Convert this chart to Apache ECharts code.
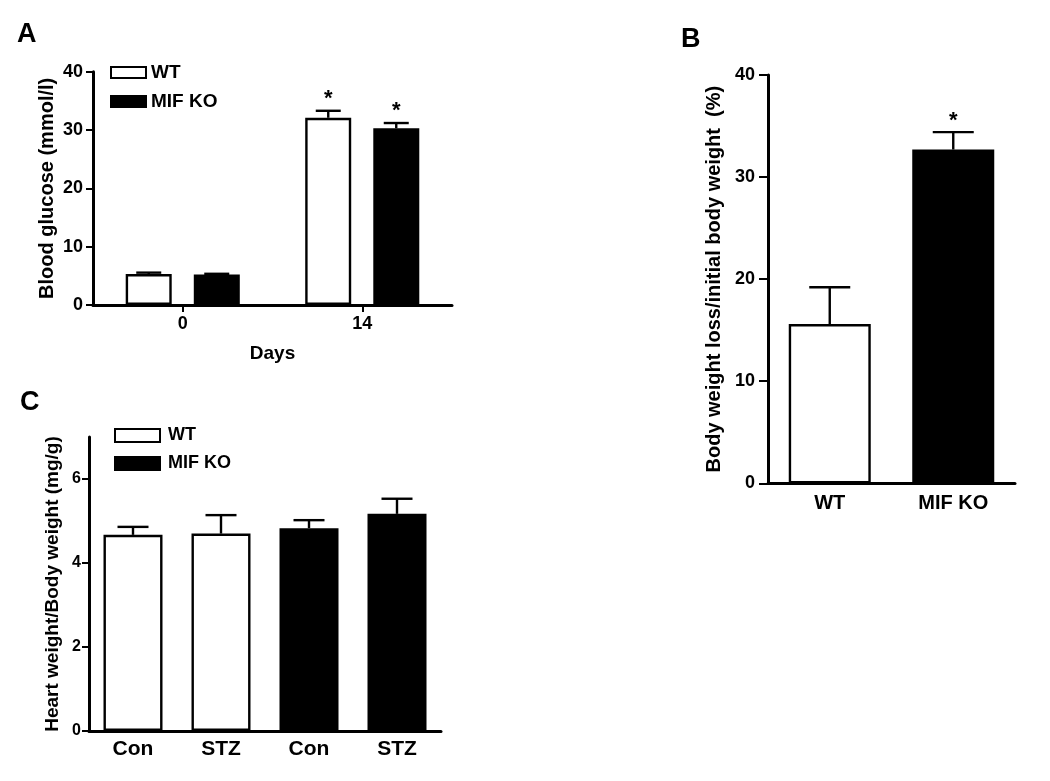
<!DOCTYPE html>
<html><head><meta charset="utf-8">
<script src="https://cdn.jsdelivr.net/npm/echarts@6/dist/echarts.min.js"></script>
<style>html,body{margin:0;padding:0;background:#fff}#c{width:1050px;height:781px}</style>
</head><body><div id="c"></div>
<script>
const FONT = '"Liberation Sans", Arial, Helvetica, sans-serif';

// Panel A: blood glucose
const dayCategories = ['0', '14'];
const glucoseWT = [5.3, 32.1];
const glucoseWTsem = [0.25, 1.2];
const glucoseKO = [5.25, 30.3];
const glucoseKOsem = [0.1, 0.9];
const glucoseStarWT = [0, 1];
const glucoseStarKO = [0, 1];
const glucoseTicks = [0, 10, 20, 30, 40];

// Panel B: body weight loss
const bwCategories = ['WT', 'MIF KO'];
const bwLoss = [15.6, 32.7];
const bwLossSem = [3.6, 1.7];
const bwStar = [0, 1];
const bwTicks = [0, 10, 20, 30, 40];

// Panel C: heart weight / body weight
const hwCategories = ['Con', 'STZ', 'Con', 'STZ'];
const hwWT = [4.67, 4.70, '-', '-'];
const hwWTsem = [0.19, 0.44, null, null];
const hwKO = ['-', '-', 4.83, 5.17];
const hwKOsem = [null, null, 0.19, 0.36];
const hwTicks = [0, 2, 4, 6];

const chart = echarts.init(document.getElementById('c'), null, {renderer: 'canvas'});

const WHITE = {color: '#fff', borderColor: '#000', borderWidth: 2.4};
const BLACK = {color: '#000', borderColor: '#000', borderWidth: 2.4};

function errData(means, sems, stars) {
  const out = [];
  means.forEach((m, i) => {
    if (m === '-' || m == null) return;
    out.push([i, m, m + sems[i], stars ? stars[i] : 0]);
  });
  return out;
}

function errorSeries(gridIdx, data, offsetPx, capHalf, starSize, starGap) {
  return {
    type: 'custom', xAxisIndex: gridIdx, yAxisIndex: gridIdx,
    data: data, z: 5, silent: true,
    renderItem: function (params, api) {
      const i = api.value(0);
      const base = api.coord([i, api.value(1)]);
      const top = api.coord([i, api.value(2)]);
      const x = base[0] + offsetPx;
      const children = [
        {type: 'line', shape: {x1: x, y1: base[1], x2: x, y2: top[1]}, style: {stroke: '#000', lineWidth: 2.4}},
        {type: 'line', shape: {x1: x - capHalf, y1: top[1], x2: x + capHalf, y2: top[1]}, style: {stroke: '#000', lineWidth: 2.4}}
      ];
      if (api.value(3)) {
        children.push({type: 'text', style: {text: '*', x: x, y: top[1] - starGap, align: 'center', verticalAlign: 'middle',
          font: 'bold ' + starSize + 'px ' + FONT, fill: '#000'}});
      }
      return {type: 'group', children: children};
    }
  };
}

function valueAxis(gridIndex, max, interval, ticks, name, nameGap, labelSize, margin, tickLen, nameSize) {
  return {
    type: 'value', gridIndex: gridIndex, min: 0, max: max, interval: interval,
    splitLine: {show: false},
    axisLine: {show: true, lineStyle: {color: '#000', width: 3}},
    axisTick: {show: true, length: tickLen, lineStyle: {color: '#000', width: 2}, customValues: ticks},
    axisLabel: {color: '#000', fontFamily: FONT, fontWeight: 'bold', fontSize: labelSize, margin: margin, customValues: ticks},
    name: name, nameLocation: 'middle', nameGap: nameGap,
    nameTextStyle: {color: '#000', fontFamily: FONT, fontWeight: 'bold', fontSize: nameSize}
  };
}

function catAxis(gridIndex, data, labelSize, margin, ticks, name) {
  const ax = {
    type: 'category', gridIndex: gridIndex, data: data,
    axisLine: {show: true, lineStyle: {color: '#000', width: 3}},
    axisTick: {show: ticks, alignWithLabel: true, length: 7, lineStyle: {color: '#000', width: 2}},
    axisLabel: {color: '#000', fontFamily: FONT, fontWeight: 'bold', fontSize: labelSize, margin: margin}
  };
  if (name) {
    ax.name = name; ax.nameLocation = 'middle'; ax.nameGap = 39;
    ax.nameTextStyle = {color: '#000', fontFamily: FONT, fontWeight: 'bold', fontSize: 19};
  }
  return ax;
}

const option = {
  backgroundColor: '#fff',
  animation: false,
  title: [
    {text: 'A', left: 12, top: 16, textStyle: {fontFamily: FONT, fontWeight: 'bold', fontSize: 27, color: '#000'}},
    {text: 'B', left: 676, top: 21, textStyle: {fontFamily: FONT, fontWeight: 'bold', fontSize: 27, color: '#000'}},
    {text: 'C', left: 15, top: 384, textStyle: {fontFamily: FONT, fontWeight: 'bold', fontSize: 27, color: '#000'}}
  ],
  legend: [
    {data: ['WT', 'MIF KO'], orient: 'vertical', left: 105, top: 57, icon: 'rect', itemWidth: 35, itemHeight: 11, itemGap: 8,
      selectedMode: false,
      textStyle: {fontFamily: FONT, fontWeight: 'bold', fontSize: 19, color: '#000', lineHeight: 21}},
    {data: ['WT', 'MIF KO'], orient: 'vertical', left: 109, top: 420, icon: 'rect', itemWidth: 45, itemHeight: 13, itemGap: 7,
      selectedMode: false,
      textStyle: {fontFamily: FONT, fontWeight: 'bold', fontSize: 18, color: '#000', lineHeight: 21, padding: [0, 0, 0, 3]}}
  ],
  grid: [
    {left: 93, top: 71.7, width: 359, height: 233.3},
    {left: 768, top: 75, width: 247, height: 408.3},
    {left: 89, top: 437, width: 352, height: 294}
  ],
  xAxis: [
    catAxis(0, dayCategories, 18, 10, true, 'Days'),
    catAxis(1, bwCategories, 20, 10, false),
    catAxis(2, hwCategories, 21, 8, false)
  ],
  yAxis: [
    valueAxis(0, 40, 10, glucoseTicks, 'Blood glucose (mmol/l)', 36, 18, 10, 7, 20),
    valueAxis(1, 40, 10, bwTicks, 'Body weight loss/initial body weight  (%)', 44, 18, 13, 9, 20),
    valueAxis(2, 7, 2, hwTicks, 'Heart weight/Body weight (mg/g)', 27, 16, 8, 7, 19)
  ],
  series: [
    {name: 'WT', type: 'bar', xAxisIndex: 0, yAxisIndex: 0, data: glucoseWT, barWidth: 46, barGap: '48%', itemStyle: WHITE},
    {name: 'MIF KO', type: 'bar', xAxisIndex: 0, yAxisIndex: 0, data: glucoseKO, barWidth: 46, barGap: '48%', itemStyle: BLACK},
    errorSeries(0, errData(glucoseWT, glucoseWTsem, glucoseStarWT), -34, 12.5, 22, 12),
    errorSeries(0, errData(glucoseKO, glucoseKOsem, glucoseStarKO), 34, 12.5, 22, 12),

    {name: 'bw', type: 'bar', xAxisIndex: 1, yAxisIndex: 1, barWidth: 82,
      data: bwLoss.map((v, i) => ({value: v, itemStyle: i === 0 ? WHITE : BLACK}))},
    errorSeries(1, errData(bwLoss, bwLossSem, bwStar), 0, 20.5, 22, 11),

    {name: 'WT', type: 'bar', xAxisIndex: 2, yAxisIndex: 2, data: hwWT, barWidth: 59, barGap: '-100%', itemStyle: WHITE},
    {name: 'MIF KO', type: 'bar', xAxisIndex: 2, yAxisIndex: 2, data: hwKO, barWidth: 59, barGap: '-100%', itemStyle: BLACK},
    errorSeries(2, errData(hwWT, hwWTsem, null), 0, 15.5, 20, 12),
    errorSeries(2, errData(hwKO, hwKOsem, null), 0, 15.5, 20, 12)
  ]
};
chart.setOption(option);
</script>
</body></html>
